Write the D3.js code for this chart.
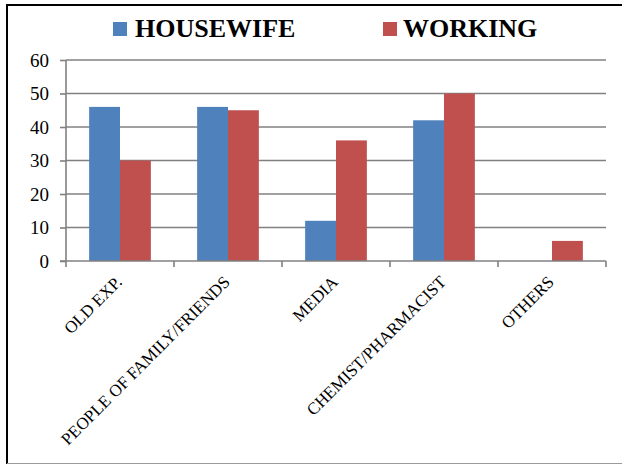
<!DOCTYPE html>
<html>
<head>
<meta charset="utf-8">
<script src="https://cdn.jsdelivr.net/npm/d3@7"></script>
<style>
  html, body { margin: 0; padding: 0; background: #fff; }
  svg { display: block; }
</style>
</head>
<body>
<svg id="chart" width="622" height="464"></svg>
<script>
// Source of information, by group
const categories = ["OLD EXP.", "PEOPLE OF FAMILY/FRIENDS", "MEDIA", "CHEMIST/PHARMACIST", "OTHERS"];
const seriesNames = ["HOUSEWIFE", "WORKING"];
const housewife = [46, 46, 12, 42, 0];
const working = [30, 45, 36, 50, 6];
const yTicks = [0, 10, 20, 30, 40, 50, 60];
const colors = ["#4F81BD", "#C0504D"];

const svg = d3.select("#chart");
const serif = "'Liberation Serif', 'Times New Roman', serif";

// Frame
svg.append("line").attr("x1", 7).attr("x2", 622).attr("y1", 5).attr("y2", 5)
  .attr("stroke", "#000").attr("stroke-width", 2);
svg.append("line").attr("x1", 7).attr("x2", 7).attr("y1", 4).attr("y2", 464)
  .attr("stroke", "#000").attr("stroke-width", 2);
svg.append("line").attr("x1", 7).attr("x2", 622).attr("y1", 463.5).attr("y2", 463.5)
  .attr("stroke", "#9a9a9a").attr("stroke-width", 1);

const plot = { left: 66, right: 606, top: 60, bottom: 261 };

const x = d3.scaleBand().domain(categories).range([plot.left, plot.right]).paddingInner(0).paddingOuter(0);
const inner = d3.scaleBand().domain(seriesNames).range([0, x.bandwidth()]).paddingInner(0).paddingOuter(0.75);
const y = d3.scaleLinear().domain([0, 60]).range([plot.bottom, plot.top]);

// Gridlines
svg.append("g").selectAll("line").data(yTicks.filter(d => d > 0)).join("line")
  .attr("x1", plot.left).attr("x2", plot.right)
  .attr("y1", d => y(d)).attr("y2", d => y(d))
  .attr("stroke", "#808080").attr("stroke-width", 1.6);

// Bars
const data = categories.map((c, i) => ({ cat: c, vals: [housewife[i], working[i]] }));
const groups = svg.append("g").selectAll("g").data(data).join("g")
  .attr("transform", d => `translate(${x(d.cat)},0)`);
groups.selectAll("rect").data(d => d.vals.map((v, j) => ({ s: seriesNames[j], v, j })))
  .join("rect")
  .attr("x", d => inner(d.s))
  .attr("width", inner.bandwidth())
  .attr("y", d => y(d.v))
  .attr("height", d => y(0) - y(d.v))
  .attr("fill", d => colors[d.j]);

// Y axis
const yAxis = svg.append("g").attr("transform", `translate(${plot.left},0)`)
  .call(d3.axisLeft(y).tickValues(yTicks).tickSize(6).tickPadding(11));
yAxis.select(".domain").attr("stroke", "#808080").attr("stroke-width", 1.6)
  .attr("d", `M0,${plot.top}V${plot.bottom}`);
yAxis.selectAll(".tick line").attr("stroke", "#808080").attr("stroke-width", 1.6);
yAxis.selectAll(".tick text").attr("font-family", serif).attr("font-size", 19)
  .attr("fill", "#000").attr("dy", "0.34em");

// X axis
const xAxis = svg.append("g").attr("transform", `translate(0,${plot.bottom})`);
xAxis.append("line").attr("x1", plot.left - 6).attr("x2", plot.right)
  .attr("y1", 0).attr("y2", 0).attr("stroke", "#808080").attr("stroke-width", 1.6);
const edges = categories.map(c => x(c)).concat([plot.right]);
xAxis.selectAll("line.tk").data(edges).join("line").attr("class", "tk")
  .attr("x1", d => d).attr("x2", d => d).attr("y1", 0).attr("y2", 6)
  .attr("stroke", "#808080").attr("stroke-width", 1.6);
xAxis.selectAll("text").data(categories).join("text")
  .attr("transform", d => `translate(${x(d) + x.bandwidth() / 2 + 3},22) rotate(-45)`)
  .attr("text-anchor", "end")
  .attr("font-family", serif).attr("font-size", 17)
  .attr("fill", "#000")
  .text(d => d);

// Legend
const legendItems = [
  { name: seriesNames[0], sx: 113, tx: 135 },
  { name: seriesNames[1], sx: 383, tx: 403 }
];
const lg = svg.append("g");
lg.selectAll("rect").data(legendItems).join("rect")
  .attr("x", d => d.sx).attr("y", 22).attr("width", 14).attr("height", 14)
  .attr("fill", (d, i) => colors[i]);
lg.selectAll("text").data(legendItems).join("text")
  .attr("x", d => d.tx).attr("y", 37)
  .attr("font-family", serif).attr("font-size", 26).attr("font-weight", "bold")
  .attr("fill", "#000")
  .text(d => d.name);
</script>
</body>
</html>
